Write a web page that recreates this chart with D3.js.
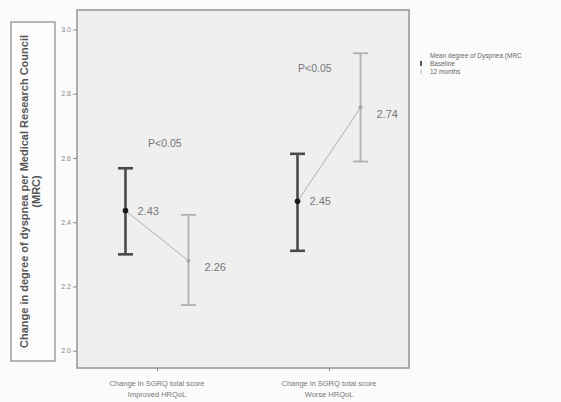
<!DOCTYPE html>
<html><head><meta charset="utf-8">
<script src="https://cdn.jsdelivr.net/npm/d3@7/dist/d3.min.js"></script>
<style>body{margin:0;background:#fbfbfb;} svg{display:block;}</style>
</head><body>
<svg id="c" width="561" height="402"></svg>
<script>
const groups = ["Improved", "Worse"];
const groupLines = [["Change in SGRQ total score","Improved HRQoL"],["Change in SGRQ total score","Worse HRQoL"]];
const series = ["Baseline", "12 months"];
const meanBaseline = [2.436, 2.465];
const mean12 = [2.28, 2.757];
const lowBaseline = [2.30, 2.311];
const highBaseline = [2.568, 2.613];
const low12 = [2.142, 2.589];
const high12 = [2.423, 2.926];
const labelBaseline = ["2.43", "2.45"];
const label12 = ["2.26", "2.74"];
const pLabels = ["P<0.05", "P<0.05"];
const yTicks = [2.0, 2.2, 2.4, 2.6, 2.8, 3.0];

const svg = d3.select("#c");
const L = 77, R = 409, T = 10, B = 368;
const y = d3.scaleLinear().domain([2.0, 3.0]).range([350.7, 29.5]);
const x = d3.scalePoint().domain(groups).range([L, R]).padding(0.465);
const off = d3.scalePoint().domain(series).range([-31.5, 31.5]);

// plot frame
svg.append("rect").attr("x", L).attr("y", T).attr("width", R - L).attr("height", B - T)
  .attr("fill", "#efefef").attr("stroke", "#9a9a9a").attr("stroke-width", 1.6);

// y axis
const ya = svg.append("g").attr("transform", `translate(${L},0)`)
  .call(d3.axisLeft(y).tickValues(yTicks).tickFormat(d3.format(".1f")).tickSize(4).tickPadding(2));
ya.select(".domain").remove();
ya.selectAll("line").attr("stroke", "#888");
ya.selectAll("text").attr("fill", "#888").style("font-family", "Liberation Sans, Arial").style("font-size", "7px");

// x axis ticks
const xa = svg.append("g").attr("transform", `translate(0,${B})`)
  .call(d3.axisBottom(x).tickSize(3).tickFormat(""));
xa.select(".domain").remove();
xa.selectAll("line").attr("stroke", "#888");

// x labels
groups.forEach((g, i) => {
  const t = svg.append("text").attr("x", x(g)).attr("y", 386).attr("text-anchor", "middle")
    .attr("fill", "#777").style("font-family", "Liberation Sans, Arial").style("font-size", "7.5px");
  groupLines[i].forEach((ln, j) => t.append("tspan").attr("x", x(g)).attr("dy", j ? 11 : 0).text(ln));
});

// y title box
svg.append("rect").attr("x", 11).attr("y", 22).attr("width", 44).attr("height", 339)
  .attr("fill", "#fcfcfc").attr("stroke", "#888").attr("stroke-width", 1.2);
const yt = svg.append("text").attr("transform", "translate(28,191.5) rotate(-90)")
  .attr("text-anchor", "middle").attr("fill", "#555")
  .style("font-family", "Liberation Sans, Arial").style("font-size", "11px").style("font-weight", "bold");
yt.append("tspan").attr("x", 0).attr("dy", 0).text("Change in degree of dyspnea per Medical Research Council");
yt.append("tspan").attr("x", 0).attr("dy", 12).text("(MRC)");

// connecting lines
groups.forEach((g, i) => {
  svg.append("line")
    .attr("x1", x(g) + off("Baseline")).attr("y1", y(meanBaseline[i]))
    .attr("x2", x(g) + off("12 months")).attr("y2", y(mean12[i]))
    .attr("stroke", "#c4c4c4").attr("stroke-width", 1.2);
});

function errbar(cx, lo, hi, mean, color, w, capW, r, dotColor) {
  svg.append("line").attr("x1", cx).attr("x2", cx).attr("y1", y(lo)).attr("y2", y(hi))
    .attr("stroke", color).attr("stroke-width", w);
  [lo, hi].forEach(v => svg.append("line").attr("x1", cx - capW).attr("x2", cx + capW)
    .attr("y1", y(v)).attr("y2", y(v)).attr("stroke", color).attr("stroke-width", w));
  svg.append("circle").attr("cx", cx).attr("cy", y(mean)).attr("r", r).attr("fill", dotColor);
}
groups.forEach((g, i) => {
  errbar(x(g) + off("Baseline"), lowBaseline[i], highBaseline[i], meanBaseline[i], "#4a4a4a", 2.6, 7.5, 2.8, "#1a1a1a");
  errbar(x(g) + off("12 months"), low12[i], high12[i], mean12[i], "#b0b0b0", 1.8, 7.5, 2, "#a8a8a8");
});

// value labels
const vstyle = s => s.attr("fill", "#777").style("font-family", "Liberation Sans, Arial").style("font-size", "11px");
groups.forEach((g, i) => {
  vstyle(svg.append("text").attr("x", x(g) + off("Baseline") + 12).attr("y", y(meanBaseline[i]) + 4).text(labelBaseline[i]));
  vstyle(svg.append("text").attr("x", x(g) + off("12 months") + 16).attr("y", y(mean12[i]) + 10).text(label12[i]));
});
vstyle(svg.append("text").attr("x", 148).attr("y", 147).text(pLabels[0])).style("font-size", "10.5px");
vstyle(svg.append("text").attr("x", 298).attr("y", 72).text(pLabels[1])).style("font-size", "10.5px");

// legend
const lg = svg.append("g").style("font-family", "Liberation Sans, Arial").style("font-size", "6.5px").attr("fill", "#666");
lg.append("text").attr("x", 430).attr("y", 58).text("Mean degree of Dyspnea (MRC");
series.forEach((s, i) => {
  const yy = 66 + i * 8;
  lg.append("line").attr("x1", 421).attr("x2", 421).attr("y1", yy - 5).attr("y2", yy)
    .attr("stroke", i ? "#bbb" : "#333").attr("stroke-width", i ? 1 : 1.6);
  lg.append("text").attr("x", 430).attr("y", yy).text(s);
});
</script>
</body></html>
